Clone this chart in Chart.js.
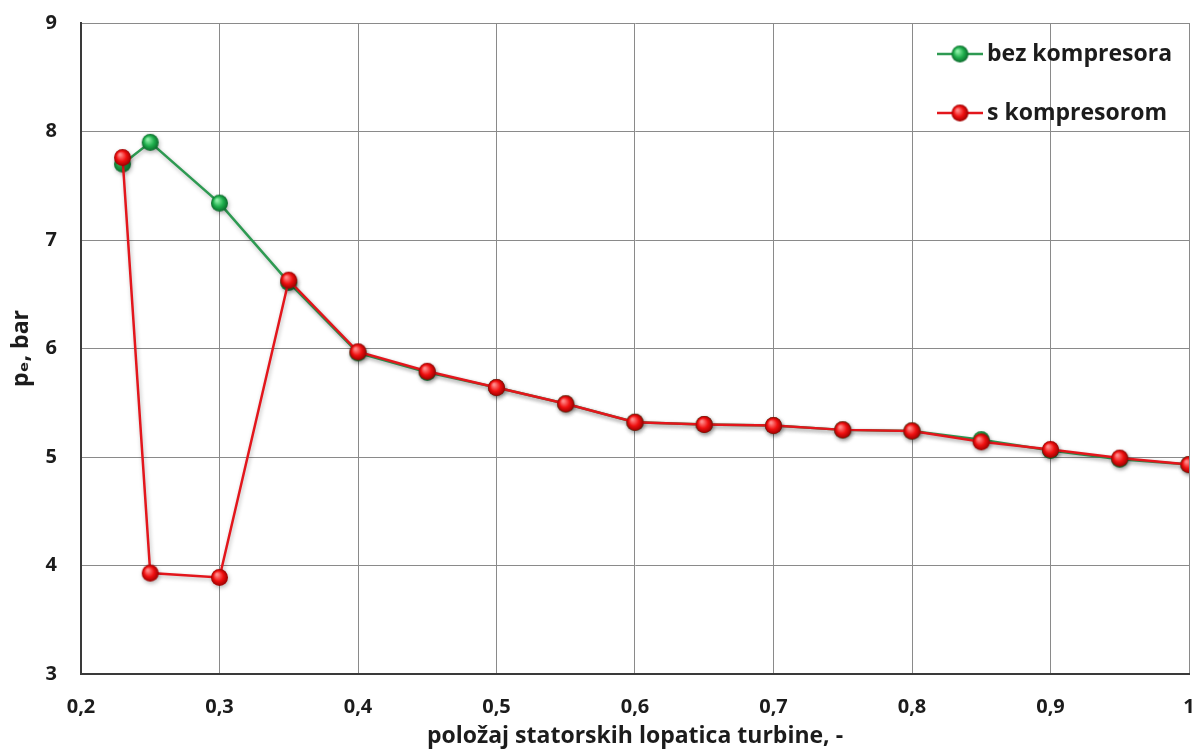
<!DOCTYPE html>
<html>
<head>
<meta charset="utf-8">
<script src="https://cdn.jsdelivr.net/npm/chart.js@4"></script>
<style>
html,body{margin:0;padding:0;background:#fff;}
#wrap{width:1200px;height:751px;position:relative;}
</style>
</head>
<body>
<div id="wrap"><canvas id="c" width="1200" height="751"></canvas></div>
<script>
// ---- data ----
const positions = [0.23, 0.25, 0.3, 0.35, 0.4, 0.45, 0.5, 0.55, 0.6, 0.65, 0.7, 0.75, 0.8, 0.85, 0.9, 0.95, 1.0];
const bezKompresora = [7.70, 7.90, 7.34, 6.61, 5.96, 5.78, 5.64, 5.49, 5.32, 5.30, 5.29, 5.25, 5.24, 5.16, 5.06, 4.98, 4.93];
const sKompresorom = [7.76, 3.93, 3.89, 6.63, 5.97, 5.79, 5.64, 5.49, 5.32, 5.30, 5.29, 5.25, 5.24, 5.14, 5.07, 4.99, 4.93];
const seriesLabels = ['bez kompresora', 's kompresorom'];
const xTitle = 'položaj statorskih lopatica turbine, -';
const yTitle = 'p\u2091, bar';

const FONT = '"Open Sans", "DejaVu Sans", sans-serif';
const TEXT = '#1c1c1c';

function ball(c0, c1, c2, r) {
  const s = Math.ceil(r * 2 + 2);
  const cv = document.createElement('canvas');
  cv.width = s; cv.height = s;
  const g = cv.getContext('2d');
  const cx = s / 2, cy = s / 2;
  const grad = g.createRadialGradient(cx - r * 0.3, cy - r * 0.35, r * 0.1, cx, cy, r);
  grad.addColorStop(0, c0);
  grad.addColorStop(0.55, c1);
  grad.addColorStop(1, c2);
  g.fillStyle = grad;
  g.beginPath(); g.arc(cx, cy, r, 0, Math.PI * 2); g.fill();
  return cv;
}
const greenBall = ball('#8ff0a8', '#1fae4c', '#0b6a2b', 8.5);
const redBall = ball('#ff8a8a', '#f01010', '#9a0000', 8.5);

const toPts = (ys) => positions.map((x, i) => ({x: x, y: ys[i]}));

const shadowPlugin = {
  id: 'shadow',
  beforeDatasetsDraw(chart) {
    const ctx = chart.ctx;
    ctx.save();
    ctx.shadowColor = 'rgba(0,0,0,0.28)';
    ctx.shadowBlur = 4;
    ctx.shadowOffsetX = 1;
    ctx.shadowOffsetY = 2;
  },
  afterDatasetsDraw(chart) {
    chart.ctx.restore();
  }
};

const legendPlugin = {
  id: 'customLegend',
  afterDraw(chart) {
    const ctx = chart.ctx;
    const items = chart.data.datasets;
    const rows = [54, 113];
    ctx.save();
    items.forEach((ds, i) => {
      const y = rows[i];
      ctx.strokeStyle = ds.borderColor;
      ctx.lineWidth = 2.5;
      ctx.beginPath(); ctx.moveTo(937, y); ctx.lineTo(983, y); ctx.stroke();
      const img = ds.pointStyle;
      ctx.drawImage(img, 960 - img.width / 2, y - img.height / 2);
      ctx.fillStyle = TEXT;
      ctx.font = 'bold 23px ' + FONT;
      ctx.textBaseline = 'middle';
      ctx.textAlign = 'left';
      ctx.fillText(ds.label, 987, y);
    });
    ctx.restore();
  }
};

const fmt = (v) => {
  const r = Math.round(v * 10) / 10;
  return String(r).replace('.', ',');
};
const noPad = (s) => { s.paddingTop = 0; s.paddingBottom = 0; s.paddingLeft = 0; s.paddingRight = 0; };

new Chart(document.getElementById('c'), {
  type: 'line',
  data: {
    datasets: [
      {
        label: seriesLabels[0],
        data: toPts(bezKompresora),
        borderColor: '#2e9a52',
        borderWidth: 2.5,
        pointStyle: greenBall,
        pointRadius: 8.5,
        tension: 0,
        order: 1
      },
      {
        label: seriesLabels[1],
        data: toPts(sKompresorom),
        borderColor: '#e3161c',
        borderWidth: 2.5,
        pointStyle: redBall,
        pointRadius: 8.5,
        tension: 0,
        order: 0
      }
    ]
  },
  options: {
    responsive: false,
    animation: false,
    layout: {padding: {top: 23, right: 10, left: 0, bottom: 0}},
    plugins: {legend: {display: false}, tooltip: {enabled: false}},
    scales: {
      x: {
        type: 'linear',
        min: 0.2, max: 1.0,
        afterFit(s) { s.height = 77; noPad(s); },
        ticks: {stepSize: 0.1, padding: 21, color: TEXT, font: {family: FONT, weight: 'bold', size: 20}, callback: fmt, maxRotation: 0},
        grid: {color: '#8a8a8a', lineWidth: 1, drawTicks: false},
        border: {color: '#3a3a3a', width: 2},
        title: {display: true, text: xTitle, color: TEXT, font: {family: FONT, weight: 'bold', size: 23}, padding: {top: 0, bottom: 1}}
      },
      y: {
        min: 3, max: 9,
        afterFit(s) { s.width = 81; noPad(s); },
        ticks: {stepSize: 1, padding: 24, color: TEXT, font: {family: FONT, weight: 'bold', size: 20}},
        grid: {color: '#8a8a8a', lineWidth: 1, drawTicks: false},
        border: {color: '#3a3a3a', width: 2},
        title: {display: true, text: yTitle, color: TEXT, font: {family: FONT, weight: 'bold', size: 23}, padding: {top: 8, bottom: 0}}
      }
    }
  },
  plugins: [shadowPlugin, legendPlugin]
});
</script>
</body>
</html>
